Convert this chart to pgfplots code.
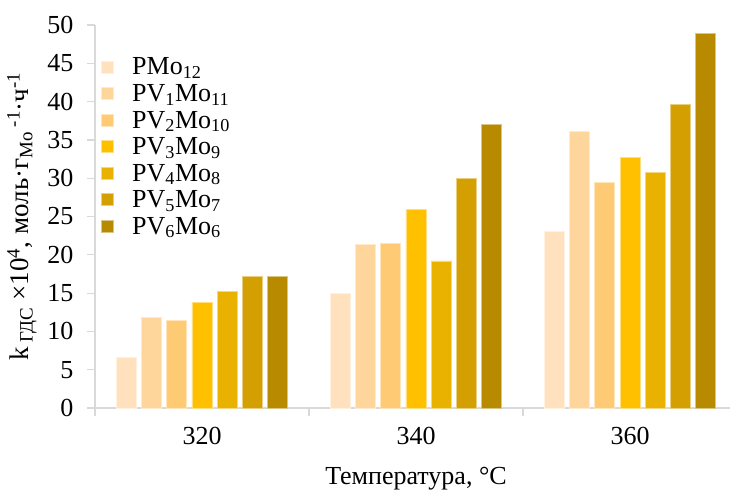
\documentclass[border=0pt]{standalone}
\usepackage{fontspec}
\setmainfont{Liberation Serif}
\usepackage{pgfplots}
\pgfplotsset{compat=1.18}
\definecolor{c1}{HTML}{FFE1BE}
\definecolor{c2}{HTML}{FED59B}
\definecolor{c3}{HTML}{FECB74}
\definecolor{c4}{HTML}{FFC000}
\definecolor{c5}{HTML}{E9B100}
\definecolor{c6}{HTML}{D49F00}
\definecolor{c7}{HTML}{B78A00}
\definecolor{axgray}{HTML}{D9D9D9}
\pgfplotstableread{
x s1 s2 s3 s4 s5 s6 s7
0 6.6 11.8 11.4 13.8 15.2 17.2 17.2
1 14.9 21.4 21.5 25.9 19.2 30.0 37.0
2 23.1 36.1 29.4 32.7 30.8 39.6 48.9
}\datatable
\begin{document}
\begin{tikzpicture}
\begin{axis}[
  scale only axis,
  width=642pt, height=383pt,
  xmin=-0.5, xmax=2.5,
  ymin=0, ymax=50,
  ytick={0,5,...,50},
  xtick={0,1,2},
  xticklabels={320,340,360},
  minor xtick={-0.5,0.5,1.5,2.5},
  axis lines*=left,
  axis line style={axgray, line width=1.2pt},
  tick align=outside,
  major x tick style={draw=none},
  minor x tick style={axgray, line width=1.2pt},
  minor tick length=8pt,
  major tick length=8pt,
  y tick style={axgray, line width=1.2pt},
  tick label style={font=\fontsize{26}{30}\selectfont},
  /pgf/number format/assume math mode=true,
  yticklabel style={xshift=-10pt},
  xticklabel style={yshift=-8pt},
  xlabel={Температура, °C},
  ylabel={k\hspace{5pt}\textsubscript{ГДС} ×10\textsuperscript{4}, моль·г\textsubscript{Mo}\,\textsuperscript{-1}·ч\textsuperscript{-1}},
  xlabel style={font=\fontsize{26}{30}\selectfont, yshift=-15pt},
  ylabel style={font=\fontsize{27}{31}\selectfont, yshift=4pt},
  bar width=0.0935,
  legend cell align=left,
  legend style={at={(0.005,0.925)}, anchor=north west, draw=none, fill=none,
    font=\fontsize{26}{30}\selectfont, row sep=4pt,
    /tikz/every odd column/.append style={column sep=16pt}},
  legend image code/.code={\fill[#1] (0pt,-6pt) rectangle (12pt,6pt);},
]
\addplot[ybar, fill=c1, draw=c1!50!white, line width=0.8pt, bar shift=-0.354] table[x=x,y=s1]{\datatable};
\addplot[ybar, fill=c2, draw=c2!50!white, line width=0.8pt, bar shift=-0.236] table[x=x,y=s2]{\datatable};
\addplot[ybar, fill=c3, draw=c3!50!white, line width=0.8pt, bar shift=-0.118] table[x=x,y=s3]{\datatable};
\addplot[ybar, fill=c4, draw=c4!50!white, line width=0.8pt, bar shift=0] table[x=x,y=s4]{\datatable};
\addplot[ybar, fill=c5, draw=c5!50!white, line width=0.8pt, bar shift=0.118] table[x=x,y=s5]{\datatable};
\addplot[ybar, fill=c6, draw=c6!50!white, line width=0.8pt, bar shift=0.236] table[x=x,y=s6]{\datatable};
\addplot[ybar, fill=c7, draw=c7!50!white, line width=0.8pt, bar shift=0.354] table[x=x,y=s7]{\datatable};
\legend{PMo\textsubscript{12}, PV\textsubscript{1}Mo\textsubscript{11}, PV\textsubscript{2}Mo\textsubscript{10}, PV\textsubscript{3}Mo\textsubscript{9}, PV\textsubscript{4}Mo\textsubscript{8}, PV\textsubscript{5}Mo\textsubscript{7}, PV\textsubscript{6}Mo\textsubscript{6}}
\end{axis}
\pgfresetboundingbox
\path (current axis.south west) ++(-95pt,-83pt) rectangle ++(730pt,491pt);
\end{tikzpicture}
\end{document}
